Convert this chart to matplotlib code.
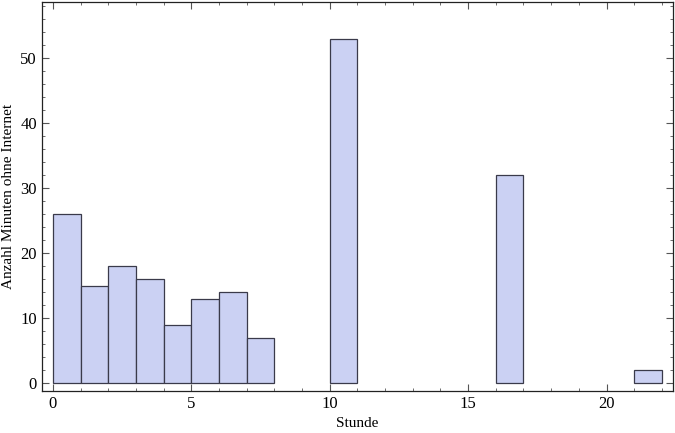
import numpy as np
import matplotlib.pyplot as plt
from matplotlib.ticker import MultipleLocator

# hour of day and minutes without internet
hours = [0, 1, 2, 3, 4, 5, 6, 7, 10, 16, 21]
minutes = [26, 15, 18, 16, 9, 13, 14, 7, 53, 32, 2]

plt.rcParams['font.family'] = ['Liberation Serif', 'DejaVu Serif']

fig = plt.figure(figsize=(6.75, 4.33), dpi=100)
ax = fig.add_axes([0.062, 0.097, 0.935, 0.898])

ax.bar(hours, minutes, width=1, align='edge', color='#CBD1F3',
       edgecolor='#3a3a4a', linewidth=0.9)

ax.set_xlim(-0.4, 22.4)
ax.set_ylim(-1.2, 58.6)
ax.xaxis.set_major_locator(MultipleLocator(5))
ax.xaxis.set_minor_locator(MultipleLocator(1))
ax.yaxis.set_major_locator(MultipleLocator(10))
ax.yaxis.set_minor_locator(MultipleLocator(2))
ax.tick_params(which='both', direction='in', top=True, right=True,
               labelsize=12, color='#555555')
ax.tick_params(which='major', length=5)
ax.tick_params(which='minor', length=2.5)
for s in ax.spines.values():
    s.set_linewidth(0.9)
    s.set_color('#222222')

ax.set_xlabel('Stunde', fontsize=11, labelpad=4)
ax.set_ylabel('Anzahl Minuten ohne Internet', fontsize=11, labelpad=4)

fig.savefig('out.png', dpi=100)
